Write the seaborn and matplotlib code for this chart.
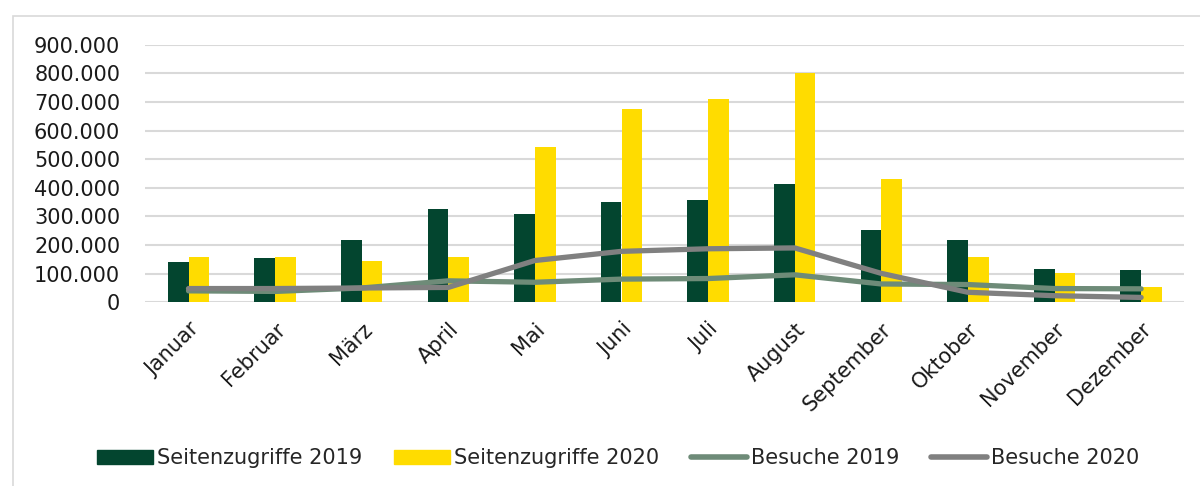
import pandas as pd
import numpy as np
import matplotlib.pyplot as plt
import matplotlib.ticker as mticker
from matplotlib.patches import Patch, Rectangle
from matplotlib.lines import Line2D
import seaborn as sns

months = ['Januar', 'Februar', 'März', 'April', 'Mai', 'Juni', 'Juli',
          'August', 'September', 'Oktober', 'November', 'Dezember']
seiten_2019 = [140000, 156000, 217000, 325000, 307000, 349000, 356000,
               415000, 254000, 216000, 115000, 113000]
seiten_2020 = [158000, 158000, 143000, 158000, 542000, 676000, 709000,
               800000, 430000, 158000, 102000, 54000]
besuche_2019 = [40000, 38000, 50000, 75000, 70000, 81000, 83000,
                96000, 64000, 62000, 48000, 47000]
besuche_2020 = [48000, 48000, 50000, 52000, 146000, 178000, 187000,
                190000, 101000, 35000, 23000, 17000]

c_dark = '#03452F'
c_yellow = '#FFDC00'
c_green_line = '#6E8B78'
c_gray_line = '#808080'

bars = pd.DataFrame({
    'Monat': months * 2,
    'Wert': seiten_2019 + seiten_2020,
    'Serie': ['Seitenzugriffe 2019'] * 12 + ['Seitenzugriffe 2020'] * 12,
})

sns.set_style('white')
plt.rcParams['font.family'] = ['DejaVu Sans']

fig = plt.figure(figsize=(12, 4.86), dpi=100)
ax = fig.add_axes([0.121, 0.378, 0.866, 0.53])

sns.barplot(data=bars, x='Monat', y='Wert', hue='Serie', ax=ax,
            palette=[c_dark, c_yellow], width=0.48, saturation=1,
            linewidth=0, legend=False, zorder=2)

x_pos = np.arange(len(months))
ax.plot(x_pos, besuche_2019, color=c_green_line, lw=3.8, zorder=3,
        solid_capstyle='round')
ax.plot(x_pos, besuche_2020, color=c_gray_line, lw=3.8, zorder=4,
        solid_capstyle='round')

ax.set_ylim(0, 900000)
ax.set_xlim(-0.5, 11.5)
ax.yaxis.set_major_locator(mticker.MultipleLocator(100000))
ax.yaxis.set_major_formatter(
    mticker.FuncFormatter(lambda v, p: f'{int(v):,}'.replace(',', '.')))
ax.grid(axis='y', color='#D9D9D9', lw=1.5, zorder=0)
ax.set_axisbelow(True)
sns.despine(ax=ax, left=True, bottom=True)
ax.tick_params(axis='both', length=0, colors='#1a1a1a')
ax.tick_params(axis='y', pad=18, labelsize=15)
ax.tick_params(axis='x', pad=12)
ax.set_xlabel('')
ax.set_ylabel('')
for lab in ax.get_xticklabels():
    lab.set_rotation(45)
    lab.set_ha('right')
    lab.set_rotation_mode('anchor')
    lab.set_fontsize(15)

handles = [Patch(color=c_dark), Patch(color=c_yellow),
           Line2D([], [], color=c_green_line, lw=4, solid_capstyle='round'),
           Line2D([], [], color=c_gray_line, lw=4, solid_capstyle='round')]
labels = ['Seitenzugriffe 2019', 'Seitenzugriffe 2020', 'Besuche 2019', 'Besuche 2020']
fig.legend(handles, labels, loc='center', bbox_to_anchor=(0.515, 0.057), ncol=4,
           frameon=False, fontsize=15, handlelength=2.7, handletextpad=0.2,
           columnspacing=1.5)

fig.patches.append(Rectangle((0.011, -0.05), 1.1, 1.017, transform=fig.transFigure,
                             fill=False, edgecolor='#D9D9D9', lw=1.2))

fig.savefig('out.png', dpi=100)
